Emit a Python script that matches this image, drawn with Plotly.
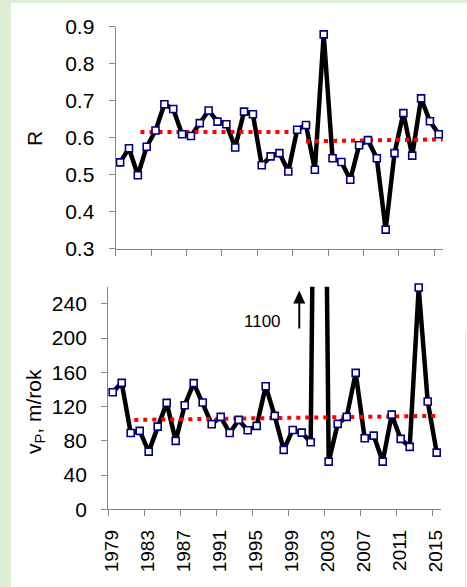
import plotly.graph_objects as go

# ---------------- data ----------------
years = list(range(1979, 2016))

r_values = [0.533, 0.571, 0.498, 0.575, 0.619, 0.690, 0.677, 0.609, 0.604, 0.639,
            0.673, 0.643, 0.636, 0.573, 0.670, 0.663, 0.525, 0.549, 0.558, 0.508,
            0.621, 0.634, 0.513, 0.879, 0.544, 0.534, 0.486, 0.579, 0.593, 0.544,
            0.351, 0.558, 0.666, 0.551, 0.706, 0.644, 0.609]

vp_values = [136.8, 147.7, 89.2, 91.6, 67.4, 96.6, 124.3, 79.9, 121.6, 147.4,
             124.7, 99.4, 108.0, 89.2, 104.4, 92.4, 97.4, 143.8, 109.1, 69.4,
             92.7, 89.6, 78.3, 1100, 55.7, 99.8, 108.0, 159.4, 83.0, 86.1,
             55.7, 110.6, 82.2, 72.9, 259.0, 125.9, 66.2]

# red dotted trend segments
r_trend1_x = [1981.3, 1999.05]
r_trend1_y = [0.615, 0.615]
r_trend2_x = [2000.0, 2015.45]
r_trend2_y = [0.590, 0.595]
vp_trend_x = [1981.4, 2015.4]
vp_trend_y = [104.4, 109.2]

r_ticks = [0.3, 0.4, 0.5, 0.6, 0.7, 0.8, 0.9]
vp_ticks = [0, 40, 80, 120, 160, 200, 240]
year_labels = ["1979", "1983", "1987", "1991", "1995", "1999", "2003", "2007", "2011", "2015"]
year_tick_pos = [int(y) - 0.5 for y in year_labels]  # ticks between categories

peak_label = "1100"

# ---------------- style ----------------
FONT = "Arial, 'Liberation Sans', sans-serif"
W, H = 467, 587
AX = "#868686"
GREEN = "#deedd4"

def px_x(p):
    return p / W

def px_y(p):
    return 1 - p / H

fig = go.Figure()

def add_panel(xs, ys, xa, ya):
    fig.add_trace(go.Scatter(x=xs, y=ys, mode="lines", xaxis=xa, yaxis=ya,
                             line=dict(color="black", width=4.5), cliponaxis=True,
                             showlegend=False, hoverinfo="skip"))

add_panel(years, r_values, "x", "y")
add_panel(years, vp_values, "x2", "y2")

for tx, ty, xa, ya in [(r_trend1_x, r_trend1_y, "x", "y"),
                       (r_trend2_x, r_trend2_y, "x", "y"),
                       (vp_trend_x, vp_trend_y, "x2", "y2")]:
    fig.add_trace(go.Scatter(x=tx, y=ty, mode="lines", xaxis=xa, yaxis=ya,
                             line=dict(color="#ff0000", width=4, dash="4px,5px"),
                             showlegend=False, hoverinfo="skip"))

for ys, xa, ya in [(r_values, "x", "y"), (vp_values, "x2", "y2")]:
    fig.add_trace(go.Scatter(x=years, y=ys, mode="markers", xaxis=xa, yaxis=ya,
                             marker=dict(symbol="square", size=7, color="white",
                                         line=dict(color="#000080", width=1.6)),
                             cliponaxis=False, showlegend=False))

axis_common = dict(showgrid=False, zeroline=False, showline=True, linecolor=AX,
                   linewidth=1.3, ticks="outside", ticklen=6, tickwidth=1.3,
                   tickcolor=AX, automargin=False,
                   tickfont=dict(family=FONT, size=21, color="black"))

arrow_x = 1999.73
arrow_y = 255.7

fig.update_layout(
    template="none",
    width=W, height=H,
    margin=dict(l=0, r=0, t=0, b=0, pad=0),
    paper_bgcolor="white", plot_bgcolor="white",
    font=dict(family=FONT, color="black"),
    xaxis=dict(domain=[px_x(115.7), px_x(443.2)], range=[1978.5, 2015.5], anchor="y",
               tickvals=year_tick_pos, showticklabels=False, **axis_common),
    yaxis=dict(domain=[px_y(248.5), px_y(26.6)], range=[0.3, 0.9], anchor="x",
               tickvals=r_ticks, ticktext=[f"{v:.1f}" for v in r_ticks],
               ticklabelstandoff=10, **axis_common),
    xaxis2=dict(domain=[px_x(108.2), px_x(441.2)], range=[1978.5, 2015.5], anchor="y2",
                tickvals=year_tick_pos, ticktext=year_labels, tickangle=-90,
                ticklabelshift=4, ticklabelstandoff=6,
                **{**axis_common, "tickfont": dict(family=FONT, size=19, color="black")}),
    yaxis2=dict(domain=[px_y(509.3), px_y(286.7)], range=[0, 260], anchor="x2",
                tickvals=vp_ticks, ticktext=[str(v) for v in vp_ticks],
                ticklabelstandoff=10, **axis_common),
    shapes=[
        dict(type="rect", xref="paper", yref="paper", x0=0, x1=px_x(11), y0=0, y1=1,
             fillcolor=GREEN, line=dict(width=0), layer="below"),
        dict(type="rect", xref="paper", yref="paper", x0=0, x1=1, y0=px_y(3), y1=1,
             fillcolor=GREEN, line=dict(width=0), layer="below"),
        dict(type="line", xref="paper", yref="paper", x0=px_x(465.5), x1=px_x(465.5),
             y0=0, y1=px_y(330), line=dict(color="#e4e4e4", width=1)),
        dict(type="path", xref="x2", yref="y2", xsizemode="pixel", ysizemode="pixel",
             xanchor=arrow_x, yanchor=arrow_y, path="M0,0 L-6,-13 L6,-13 Z",
             fillcolor="black", line=dict(width=0)),
        dict(type="path", xref="x2", yref="y2", xsizemode="pixel", ysizemode="pixel",
             xanchor=arrow_x, yanchor=arrow_y, path="M0,-12 L0,-38",
             line=dict(color="black", width=2)),
    ],
    annotations=[
        dict(xref="paper", yref="paper", x=px_x(35), y=px_y(139), text="R",
             xanchor="center", yanchor="middle",
             textangle=-90, showarrow=False, font=dict(family=FONT, size=21, color="black")),
        dict(xref="paper", yref="paper", x=px_x(35), y=px_y(412),
             text="v<sub>P</sub>, m/rok", textangle=-90, showarrow=False,
             xanchor="center", yanchor="middle",
             font=dict(family=FONT, size=21, color="black")),
        dict(xref="x2", yref="y2", x=1995.6, y=219.4, text=peak_label, showarrow=False,
             xanchor="center", yanchor="middle",
             font=dict(family=FONT, size=17, color="black")),
    ],
)

fig.write_html("out.html", post_script="document.body.style.margin='0';",
               config={"displayModeBar": False})
